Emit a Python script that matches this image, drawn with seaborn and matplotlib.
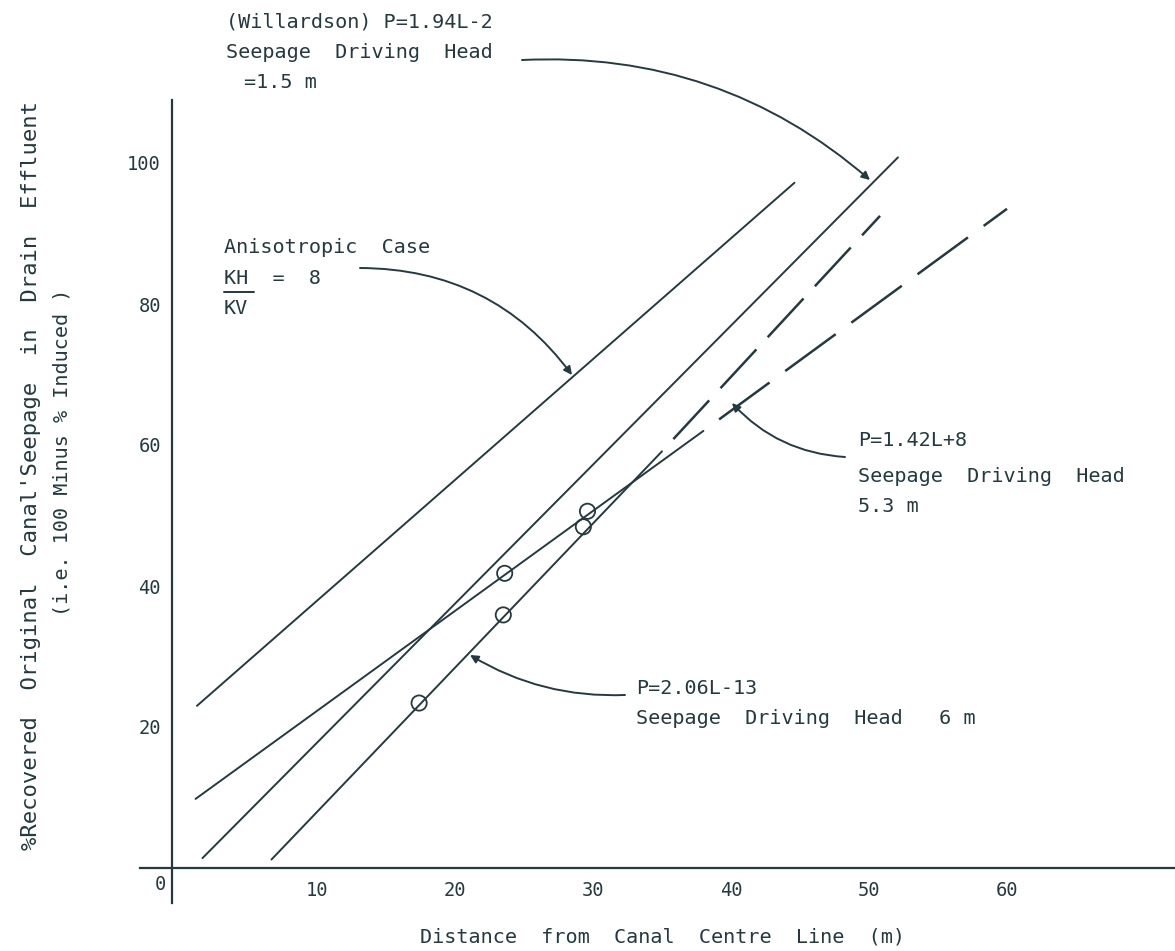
import matplotlib
matplotlib.use('Agg')
import matplotlib.pyplot as plt
import seaborn as sns
from matplotlib.lines import Line2D

# end points of the fitted lines (distance m, % recovered)
aniso_L = [1.3, 44.6]
aniso_P = [23.0, 97.2]

will_L = [1.7, 52.1]
will_P = [1.4, 100.8]

p142_solid_L = [1.2, 38.0]
p142_solid_P = [9.8, 62.0]
p142_dash_L = [38.0, 60.0]
p142_dash_P = [62.0, 93.5]

p206_solid_L = [6.7, 35.0]
p206_solid_P = [1.2, 59.1]
p206_dash_L = [35.0, 50.8]
p206_dash_P = [59.1, 92.5]

# observed points (circles)
obs_L = [17.4, 23.5, 23.6, 29.3, 29.6]
obs_P = [23.4, 35.9, 41.8, 48.4, 50.6]

x_ticks = [10, 20, 30, 40, 50, 60]
y_ticks = [20, 40, 60, 80, 100]

ink = '#26393f'
W, H = 1175, 951

sns.set_style('white')
plt.rcParams['font.family'] = ['DejaVu Sans Mono', 'DejaVu Sans']
plt.rcParams['lines.scale_dashes'] = False

fig = plt.figure(figsize=(W / 100, H / 100), dpi=100)
ax = fig.add_axes([0, 0, 1, 1])


def px(x, y):
    # picture pixel -> figure fraction
    return x / W, 1 - y / H


lw = 1.4
sns.lineplot(x=aniso_L, y=aniso_P, color=ink, linewidth=lw, ax=ax)
sns.lineplot(x=will_L, y=will_P, color=ink, linewidth=lw, ax=ax)
sns.lineplot(x=p142_solid_L, y=p142_solid_P, color=ink, linewidth=lw, ax=ax)
sns.lineplot(x=p142_dash_L, y=p142_dash_P, color=ink, linewidth=lw + 0.4,
             linestyle=(45, (45, 14)), ax=ax)
sns.lineplot(x=p206_solid_L, y=p206_solid_P, color=ink, linewidth=lw, ax=ax)
sns.lineplot(x=p206_dash_L, y=p206_dash_P, color=ink, linewidth=lw + 0.4,
             linestyle=(38, (38, 12)), ax=ax)
sns.scatterplot(x=obs_L, y=obs_P, s=120, marker='o', facecolor='none',
                edgecolor=ink, linewidth=1.3, zorder=5, ax=ax)

# axis frame mapped so 10 m = 138 px and 20 % = 141 px
ax.set_xlim(-179 / 13.8, (W - 179) / 13.8)
ax.set_ylim(-(H - 868) / 7.05, 868 / 7.05)
for s in ['top', 'right']:
    ax.spines[s].set_visible(False)
ax.spines['left'].set_position(('data', -0.5))
ax.spines['left'].set_bounds(-5, 109)
ax.spines['bottom'].set_position(('data', 0))
ax.spines['bottom'].set_bounds(-2.8, 72.2)
for s in ['left', 'bottom']:
    ax.spines[s].set_color(ink)
    ax.spines[s].set_linewidth(1.6)

ax.set_xticks(x_ticks)
ax.set_xticklabels([str(v) for v in x_ticks])
ax.set_yticks(y_ticks)
ax.set_yticklabels([str(v) for v in y_ticks])
ax.tick_params(axis='x', length=0, pad=9, labelsize=13.5, labelcolor=ink)
ax.tick_params(axis='y', length=0, pad=8, labelsize=13.5, labelcolor=ink)
ax.set_xlabel('')
ax.set_ylabel('')
ax.patch.set_alpha(0)

fs = 14.5
tk = dict(color=ink, fontsize=fs, va='center', ha='left')

fig.text(*px(160, 885), '0', color=ink, fontsize=13.5, va='center', ha='center')

# axis titles
fig.text(*px(662, 937), 'Distance  from  Canal  Centre  Line  (m)',
         color=ink, fontsize=fs, va='center', ha='center')
fig.text(*px(31, 475),
         "%Recovered  Original  Canal'Seepage  in  Drain  Effluent",
         color=ink, fontsize=16, va='center', ha='center', rotation=90)
fig.text(*px(62, 452), '(i.e. 100 Minus % Induced )',
         color=ink, fontsize=14.5, va='center', ha='center', rotation=90)

# Willardson note
fig.text(*px(226, 22), '(Willardson) P=1.94L-2', **tk)
fig.text(*px(226, 52), 'Seepage  Driving  Head', **tk)
fig.text(*px(244, 82), '=1.5 m', **tk)

# anisotropic note
fig.text(*px(224, 248), 'Anisotropic  Case', **tk)
fig.text(*px(224, 278), 'KH  =  8', **tk)
fig.text(*px(224, 308), 'KV', **tk)
fig.add_artist(Line2D([224 / W, 254 / W], [1 - 292 / H, 1 - 292 / H],
                      color=ink, linewidth=1.4))

# 1.42 note
fig.text(*px(858, 441), 'P=1.42L+8', **tk)
fig.text(*px(858, 477), 'Seepage  Driving  Head', **tk)
fig.text(*px(858, 507), '5.3 m', **tk)

# 2.06 note
fig.text(*px(636, 688), 'P=2.06L-13', **tk)
fig.text(*px(636, 718), 'Seepage  Driving  Head   6 m', **tk)

arrow = dict(arrowstyle='-|>', color=ink, linewidth=1.4,
             mutation_scale=12, shrinkA=0, shrinkB=0)
for start, end, rad in [((522, 60), (870, 180), -0.2),
                        ((360, 268), (572, 375), -0.25),
                        ((845, 457), (732, 403), -0.2),
                        ((625, 695), (470, 655), -0.15)]:
    ax.annotate('', xy=px(*end), xycoords='figure fraction',
                xytext=px(*start), textcoords='figure fraction',
                arrowprops=dict(arrow, connectionstyle=f'arc3,rad={rad}'))

fig.savefig('out.png', dpi=100)
